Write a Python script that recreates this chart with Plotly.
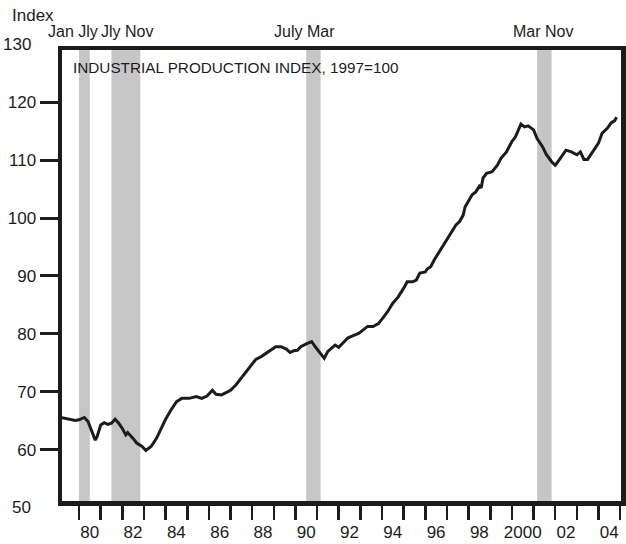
import plotly.graph_objects as go

# ---- data ----
months = [
    "1979-03", "1979-07", "1979-11", "1980-01", "1980-04", "1980-06", "1980-08", "1980-10",
    "1980-11", "1981-01", "1981-03", "1981-05", "1981-07", "1981-09", "1981-11", "1982-01",
    "1982-03", "1982-04", "1982-07", "1982-09", "1982-12", "1983-02", "1983-05", "1983-08",
    "1983-11", "1984-01", "1984-04", "1984-07", "1984-10", "1985-02", "1985-06", "1985-09",
    "1985-12", "1986-03", "1986-05", "1986-08", "1986-10", "1987-01", "1987-04", "1987-07",
    "1987-10", "1988-01", "1988-03", "1988-06", "1988-09", "1988-11", "1989-02", "1989-05",
    "1989-08", "1989-10", "1989-12", "1990-02", "1990-04", "1990-07", "1990-10", "1990-12",
    "1991-03", "1991-05", "1991-07", "1991-09", "1991-11", "1992-01", "1992-04", "1992-06",
    "1992-09", "1992-12", "1993-03", "1993-05", "1993-08", "1993-11", "1994-02", "1994-04",
    "1994-07", "1994-10", "1995-01", "1995-03", "1995-06", "1995-08", "1995-10", "1996-01",
    "1996-02", "1996-04", "1996-06", "1996-08", "1996-10", "1996-12", "1997-02", "1997-04",
    "1997-06", "1997-08", "1997-10", "1997-11", "1998-01", "1998-03", "1998-05", "1998-07",
    "1998-08", "1998-09", "1998-11", "1999-02", "1999-05", "1999-07", "1999-10", "2000-01",
    "2000-03", "2000-05", "2000-06", "2000-08", "2000-10", "2001-01", "2001-03", "2001-06",
    "2001-08", "2001-11", "2002-01", "2002-03", "2002-05", "2002-07", "2002-10", "2003-01",
    "2003-03", "2003-05", "2003-07", "2003-10", "2004-01", "2004-03", "2004-06", "2004-08",
    "2004-10", "2004-11",
]
index_values = [
    65.6, 65.4, 65.1, 65.2, 65.6, 64.9, 63.4, 61.7,
    62.3, 64.3, 64.7, 64.4, 64.6, 65.3, 64.6, 63.7,
    62.6, 63.0, 62.0, 61.2, 60.6, 59.9, 60.6, 62.0,
    64.0, 65.3, 66.9, 68.3, 68.9, 68.9, 69.2, 68.9,
    69.3, 70.3, 69.6, 69.5, 69.8, 70.3, 71.2, 72.4,
    73.5, 74.9, 75.6, 76.1, 76.7, 77.1, 77.8, 77.8,
    77.4, 76.8, 77.1, 77.2, 77.8, 78.3, 78.7, 77.8,
    76.7, 75.8, 77.0, 77.6, 78.1, 77.7, 78.7, 79.3,
    79.7, 80.1, 80.8, 81.3, 81.3, 81.8, 83.0, 83.8,
    85.3, 86.4, 87.9, 89.0, 89.0, 89.3, 90.5, 90.7,
    91.2, 91.6, 92.8, 93.8, 94.8, 95.9, 96.8, 97.9,
    98.8, 99.4, 100.5, 101.9, 103.1, 104.0, 104.5, 105.5,
    105.2, 106.9, 107.7, 108.0, 109.1, 110.3, 111.4, 113.2,
    114.0, 115.3, 116.2, 115.7, 115.9, 115.2, 113.7, 112.3,
    111.0, 109.7, 109.1, 109.9, 110.9, 111.7, 111.4, 110.9,
    111.4, 110.1, 110.1, 111.4, 112.9, 114.6, 115.5, 116.4,
    116.8, 117.4,
]

recession_starts = ["1980-01-01", "1981-07-01", "1990-07-01", "2001-03-01"]
recession_ends = ["1980-07-01", "1982-11-01", "1991-03-01", "2001-11-01"]
recession_labels = ["Jan Jly", "Jly Nov", "July Mar", "Mar Nov"]

label_years = [1980, 1982, 1984, 1986, 1988, 1990, 1992, 1994, 1996, 1998, 2000, 2002, 2004]
x_tick_labels = ["80", "82", "84", "86", "88", "90", "92", "94", "96", "98", "2000", "02", "04"]
y_tick_values = [60, 70, 80, 90, 100, 110, 120]
y_end_labels = ["50", "130"]
title_text = "INDUSTRIAL PRODUCTION INDEX, 1997=100"
y_title = "Index"

# ---- figure ----
FONT = "Liberation Sans, Arial, Helvetica, sans-serif"
INK = "#1c1c1c"
BAND = "#c6c6c6"

fig = go.Figure()
fig.add_trace(go.Scatter(
    x=months, y=index_values, mode="lines",
    line=dict(color=INK, width=3), hoverinfo="skip", showlegend=False,
))

for s, e in zip(recession_starts, recession_ends):
    fig.add_shape(type="rect", xref="x", yref="paper", x0=s, x1=e, y0=0, y1=1,
                  fillcolor=BAND, line=dict(width=0), layer="below")

label_pos = [0.0188, 0.1154, 0.4347, 0.861]
for txt, px in zip(recession_labels, label_pos):
    fig.add_annotation(text=txt, xref="paper", yref="paper", x=px, y=1.042,
                       xanchor="center", yanchor="middle", showarrow=False,
                       font=dict(family=FONT, size=16, color=INK))

fig.add_annotation(text=y_title, xref="paper", yref="paper", x=-0.093, y=1.0776,
                   xanchor="left", yanchor="middle", showarrow=False,
                   font=dict(family=FONT, size=17, color=INK))
fig.add_annotation(text=title_text, xref="paper", yref="paper", x=0.0161, y=0.9623,
                   xanchor="left", yanchor="middle", showarrow=False,
                   font=dict(family=FONT, size=15.3, color=INK))
for txt, py in zip(y_end_labels, [-0.0155, 1.0133]):
    fig.add_annotation(text=txt, xref="paper", yref="paper", x=-0.0519, y=py,
                       xanchor="right", yanchor="middle", showarrow=False,
                       font=dict(family=FONT, size=17, color=INK))

fig.update_layout(
    width=626, height=544,
    margin=dict(l=62, r=5, t=50, b=43, autoexpand=False),
    paper_bgcolor="white", plot_bgcolor="white",
    showlegend=False,
    font=dict(family=FONT, size=17, color=INK),
)
fig.update_xaxes(
    type="date", automargin=False,
    range=["1979-03-20", "2005-01-15"],
    showgrid=False, zeroline=False,
    showline=True, linewidth=4.5, linecolor=INK, mirror=True,
    tickmode="array",
    tickvals=[f"{y}-07-01" for y in label_years],
    ticktext=x_tick_labels,
    ticks="outside", ticklen=12, tickcolor="rgba(0,0,0,0)",
    tickfont=dict(family=FONT, size=17, color=INK),
    minor=dict(ticks="outside", ticklen=14, tickwidth=2.5, tickcolor=INK,
               dtick="M12", tick0="1980-01-01", showgrid=False),
)
fig.update_yaxes(
    automargin=False,
    range=[51.2, 128.97],
    showgrid=False, zeroline=False,
    showline=True, linewidth=4.5, linecolor=INK, mirror=True,
    tickmode="array", tickvals=y_tick_values,
    ticks="outside", ticklen=18, tickwidth=3, tickcolor=INK,
    tickfont=dict(family=FONT, size=17, color=INK),
)

# remove the default 8px page margin so the figure fills the window exactly
fig.write_html(
    "out.html",
    config={"displayModeBar": False, "staticPlot": True},
    post_script="document.body.style.margin='0px';document.body.style.overflow='hidden';",
)
